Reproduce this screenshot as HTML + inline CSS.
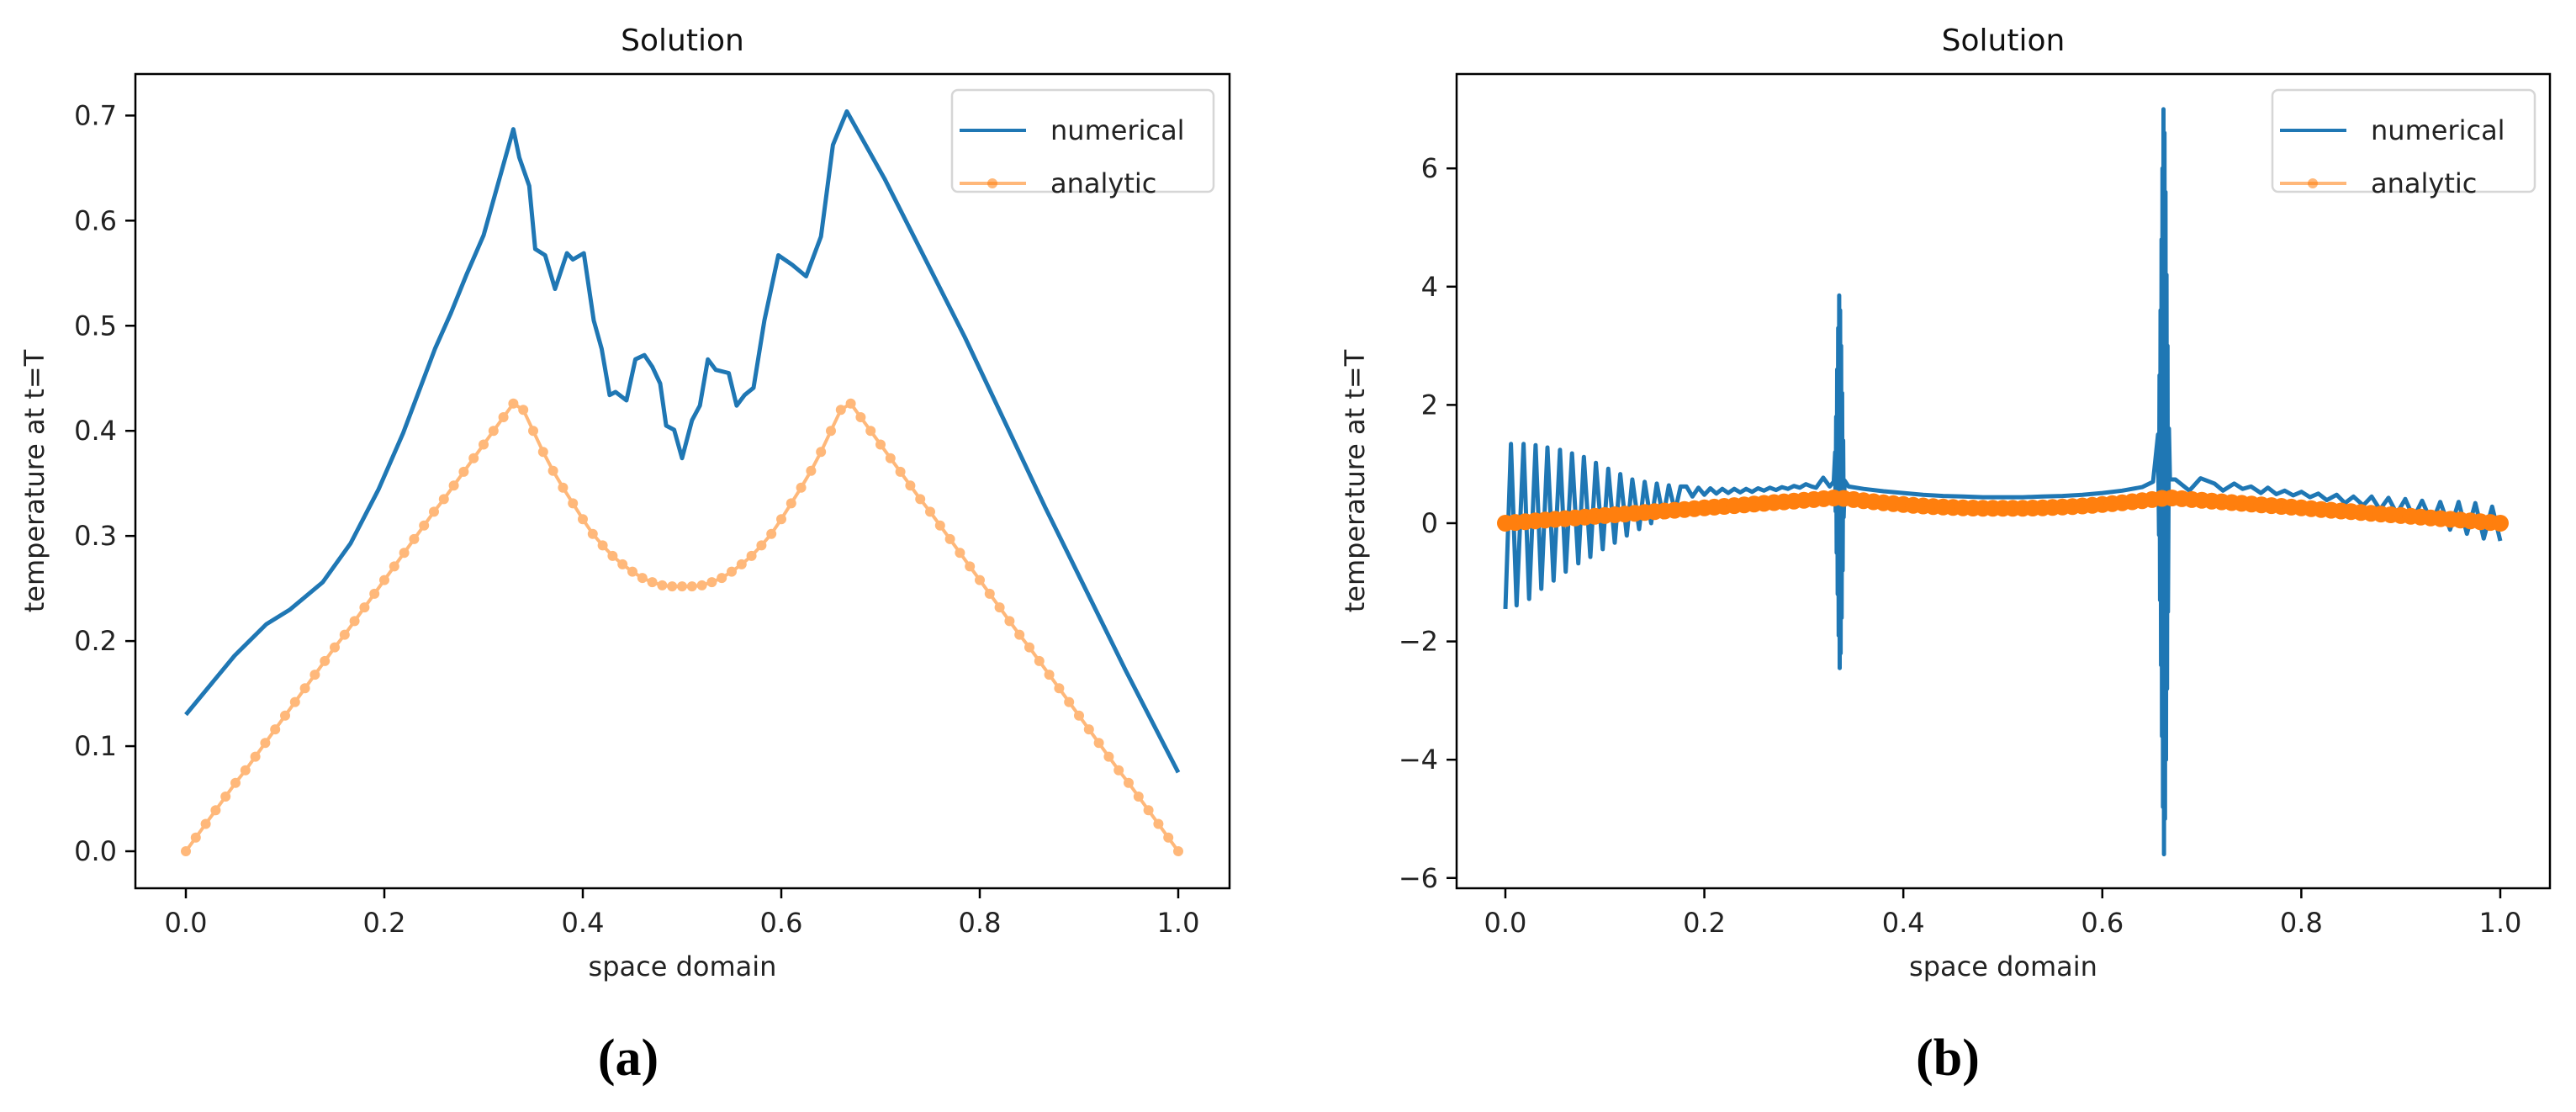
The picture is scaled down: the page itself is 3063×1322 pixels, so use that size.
<!DOCTYPE html>
<html><head><meta charset="utf-8"><style>
html,body{margin:0;padding:0;background:#fff;}
svg{display:block;font-family:"DejaVu Sans","Liberation Sans",sans-serif;}
</style></head><body>
<svg id="fig" width="3063" height="1322" viewBox="0 0 3063 1322" xmlns="http://www.w3.org/2000/svg"></svg>
<script>
// ---- shared analytic data ----
const analyticY = [0,.013,.026,.039,.052,.065,.077,.09,.103,.116,.129,.142,.155,.168,.181,.194,.206,.219,.232,.245,.258,.271,.284,.297,.31,.323,.335,.348,.361,.374,.387,.4,.413,.426,
.42,.40,.38,.362,.346,.331,.316,.302,.291,.281,.273,.266,.26,.256,.253,.252,.252,.252,.253,.256,.26,.266,.273,.281,.291,.302,.316,.331,.346,.362,.38,.40,.42,
.426,.413,.4,.387,.374,.361,.348,.335,.323,.31,.297,.284,.271,.258,.245,.232,.219,.206,.194,.181,.168,.155,.142,.129,.116,.103,.09,.077,.065,.052,.039,.026,.013,0];
const analyticX = analyticY.map((v,i)=>i/100);

// ---- panel (a) numerical ----
const numAX = [0,.049,.081,.105,.138,.166,.194,.219,.251,.267,.283,.30,.330,.336,.346,.352,.362,.372,.384,.390,.401,.411,.419,.427,.433,.444,.453,.462,.470,.478,.484,.492,.500,.510,.518,.526,.534,.547,.555,.563,.572,.583,.597,.611,.625,.640,.652,.666,.704,.785,.866,.947,1.0];
const numAY = [.130,.186,.216,.230,.256,.293,.344,.398,.478,.512,.549,.586,.687,.660,.633,.573,.567,.535,.569,.563,.569,.505,.478,.434,.437,.429,.468,.472,.461,.445,.405,.401,.374,.410,.424,.468,.458,.455,.424,.434,.441,.505,.567,.558,.547,.585,.672,.704,.640,.489,.327,.172,.075];
const ticksAX = ["0.0","0.2","0.4","0.6","0.8","1.0"];
const ticksAXv = [0,.2,.4,.6,.8,1];
const ticksAYv = [0,.1,.2,.3,.4,.5,.6,.7];
const ticksAY = ["0.0","0.1","0.2","0.3","0.4","0.5","0.6","0.7"];

// ---- panel (b) numerical ----
const numBX = [0,.0056,.0113,.0183,.0239,.0304,.0361,.0423,.0485,.0549,.0606,.0670,.0733,.0789,.0854,.0910,.0978,.1034,.1099,.1155,.1220,.1276,.1344,.1400,.1465,.1522,.1586,.1643,.1705,.1761,
.182,.188,.194,.200,.206,.212,.218,.224,.230,.236,.242,.248,.254,.260,.266,.272,.278,.284,.290,.296,.302,.308,.3124,.3195,.326,.330,
.3315,.332,.3325,.333,.3335,.334,.3345,.335,.3355,.336,.3365,.337,.3375,.338,.3385,.339,.3395,.340,.341,
.345,.36,.38,.40,.42,.44,.46,.48,.50,.52,.54,.56,.58,.60,.62,.64,.651,
.656,.657,.6575,.658,.6585,.659,.6595,.660,.6605,.661,.6615,.662,.6625,.663,.6635,.664,.6645,.665,.6655,.666,.667,.668,
.6734,.6875,.6988,.7128,.7213,.7326,.7410,.7495,.7594,.7664,.7749,.7833,.7918,.8002,.8087,.8171,.8256,.8355,.8439,.8524,.8622,.8707,.8791,.8876,.8960,.9045,.9129,.9214,.9313,.9397,.9496,.9581,.9665,.9749,.9834,.9918,1.0];
const numBY = [-1.45,1.34,-1.39,1.34,-1.28,1.32,-1.11,1.28,-.97,1.24,-.82,1.18,-.68,1.12,-.57,1.02,-.44,.92,-.33,.83,-.21,.74,-.1,.70,0,.67,.1,.64,.2,.62,
.62,.45,.60,.48,.59,.50,.58,.51,.58,.52,.58,.53,.59,.55,.60,.56,.61,.58,.63,.60,.66,.62,.60,.77,.62,.70,
1.2,.2,1.8,-.5,2.6,-1.2,3.3,-1.9,3.85,-2.45,3.6,-2.2,3.0,-1.6,2.2,-.8,1.4,.1,.72,
.62,.58,.54,.51,.48,.46,.45,.44,.44,.44,.45,.46,.48,.51,.55,.61,.70,
1.5,-.2,2.5,-1.3,3.6,-2.4,4.8,-3.6,6.0,-4.8,7.0,-5.6,6.6,-5.0,5.6,-4.0,4.2,-2.8,3.0,-1.5,1.6,.74,
.74,.55,.76,.67,.55,.67,.58,.62,.51,.60,.49,.55,.47,.53,.44,.50,.39,.48,.34,.45,.30,.45,.23,.43,.16,.41,.09,.38,0,.36,-.11,.36,-.18,.34,-.26,.28,-.30];
const ticksBXv = [0,.2,.4,.6,.8,1];
const ticksBX = ["0.0","0.2","0.4","0.6","0.8","1.0"];
const ticksBYv = [-6,-4,-2,0,2,4,6];
const ticksBY = ["\u22126","\u22124","\u22122","0","2","4","6"];

const NS="http://www.w3.org/2000/svg";
const svg=document.getElementById('fig');
function el(tag,attrs,parent,text){const e=document.createElementNS(NS,tag);for(const k in attrs)e.setAttribute(k,attrs[k]);if(text!==undefined)e.textContent=text;(parent||svg).appendChild(e);return e;}

function panel(cfg){
  const g=el('g',{});
  
  
  const sx=v=>cfg.x0+(v-cfg.xmin)/(cfg.xmax-cfg.xmin)*(cfg.x1-cfg.x0);
  const sy=v=>cfg.y0-(v-cfg.ymin)/(cfg.ymax-cfg.ymin)*(cfg.y0-cfg.y1);
  let d=cfg.nx.map((x,i)=>(i?'L':'M')+sx(x).toFixed(1)+' '+sy(cfg.ny[i]).toFixed(1)).join(' ');
  const nl=el('path',{d:d,fill:'none',stroke:'#1f77b4','stroke-width':5,'stroke-linejoin':'round'},g);
  
  
  const ag=el('g',{opacity:cfg.aop},g);
  
  
  d=analyticX.map((x,i)=>(i?'L':'M')+sx(x).toFixed(1)+' '+sy(analyticY[i]).toFixed(1)).join(' ');
  el('path',{d:d,fill:'none',stroke:'#ff7f0e','stroke-width':cfg.alw},ag);
  analyticX.forEach((x,i)=>{
    const c=el('circle',{cx:sx(x).toFixed(1),cy:sy(analyticY[i]).toFixed(1),r:cfg.mr,fill:'#ff7f0e'},ag);
    
    
  });
  const fr=el('rect',{x:cfg.x0,y:cfg.y1,width:cfg.x1-cfg.x0,height:cfg.y0-cfg.y1,fill:'none',stroke:'#000','stroke-width':2.5},g);
  
  
  cfg.xtv.forEach((v,i)=>{
    const X=sx(v);
    el('line',{x1:X,x2:X,y1:cfg.y0,y2:cfg.y0+12,stroke:'#000','stroke-width':2.5},g);
    const t=el('text',{x:X,y:cfg.y0+52,'font-size':32,'text-anchor':'middle',fill:'#222'},g,cfg.xt[i]);
    
    
  });
  cfg.ytv.forEach((v,i)=>{
    const Y=sy(v);
    el('line',{x1:cfg.x0-12,x2:cfg.x0,y1:Y,y2:Y,stroke:'#000','stroke-width':2.5},g);
    const t=el('text',{x:cfg.x0-22,y:Y+11,'font-size':32,'text-anchor':'end',fill:'#222'},g,cfg.yt[i]);
    
    
  });
  const cx=(cfg.x0+cfg.x1)/2;
  const ti=el('text',{x:cx,y:60,'font-size':36,'text-anchor':'middle',fill:'#111'},g,'Solution');
  
  
  const xl=el('text',{x:cx,y:1160,'font-size':32,'text-anchor':'middle',fill:'#222'},g,'space domain');
  
  
  const yl=el('text',{x:0,y:0,'font-size':32,'text-anchor':'middle',fill:'#222',transform:`translate(${cfg.ylx},572) rotate(-90)`},g,'temperature at t=T');
  
  
  const lg=el('g',{},g);
  
  
  el('rect',{x:cfg.lx,y:107,width:cfg.lw,height:121,rx:7,fill:'#fff','fill-opacity':0.8,stroke:'#d6d6d6','stroke-width':2.5},lg);
  el('line',{x1:cfg.lx+9,x2:cfg.lx+88,y1:155,y2:155,stroke:'#1f77b4','stroke-width':4},lg);
  const t1=el('text',{x:cfg.lx+117,y:166,'font-size':32,fill:'#222'},lg,'numerical');
  
  
  el('line',{x1:cfg.lx+9,x2:cfg.lx+88,y1:218,y2:218,stroke:'#ff7f0e','stroke-width':4,opacity:0.55},lg);
  el('circle',{cx:cfg.lx+48,cy:218,r:6,fill:'#ff7f0e',opacity:0.55},lg);
  const t2=el('text',{x:cfg.lx+117,y:229,'font-size':32,fill:'#222'},lg,'analytic');
  
  
  const sub=el('text',{x:cfg.subx,y:1278,'font-size':62,'text-anchor':'middle','font-family':'"Liberation Serif",serif','font-weight':'bold',fill:'#000'},g,cfg.sub);
  
  
}

panel({name:'panel-a',x0:161,x1:1462,y0:1056,y1:88,xmin:-0.05085,xmax:1.0517,ymin:-0.0352,ymax:0.7395,
  nx:numAX,ny:numAY,xtv:ticksAXv,xt:ticksAX,ytv:ticksAYv,yt:ticksAY,ylx:52,lx:1132,lw:311,sub:'(a)',subx:747,
  aop:0.55,alw:4,mr:6});
panel({name:'panel-b',x0:1732,x1:3032,y0:1056,y1:88,xmin:-0.049,xmax:1.0499,ymin:-6.174,ymax:7.596,
  nx:numBX,ny:numBY,xtv:ticksBXv,xt:ticksBX,ytv:ticksBYv,yt:ticksBY,ylx:1622,lx:2702,lw:312,sub:'(b)',subx:2316,
  aop:1,alw:8,mr:10});
</script>
</body></html>
